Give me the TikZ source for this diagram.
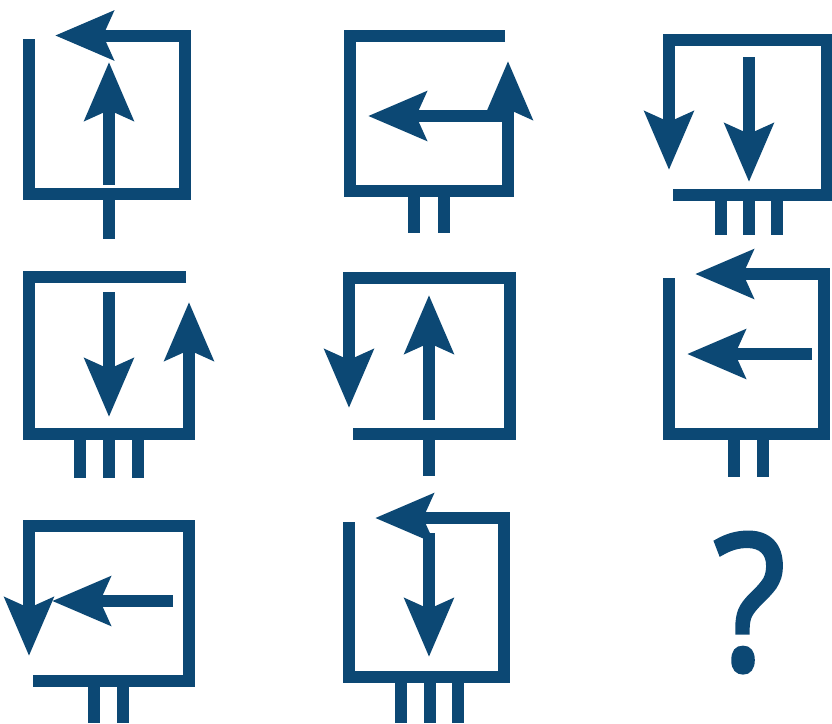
\documentclass[tikz,border=0pt]{standalone}
\usepackage{fontspec}
\newfontfamily\qfont{Open Sans}[FakeBold=2,FakeStretch=0.88]
\usetikzlibrary{arrows.meta}
\definecolor{pzblue}{HTML}{0C4874}

\begin{document}
\begin{tikzpicture}[>={Stealth[length=58pt,width=48pt,inset=10pt]},
    x=1pt,y=-1pt,line width=12pt]

  \useasboundingbox (0,0) rectangle (832,723);

  % --- row 1, cell 1 ---
  \draw[pzblue,->] (29,39) -- (29,194) -- (185,194) -- (185,35.5) -- (55,35.5);
  \draw[pzblue,->] (109,185) -- (109,62);
  \draw[pzblue] (109,194) -- (109,239);

  % --- row 1, cell 2 ---
  \draw[pzblue,->] (505,36) -- (349.5,36) -- (349.5,191) -- (508,191) -- (508,61);
  \draw[pzblue,->] (505,116) -- (368,116);
  \draw[pzblue] (414,191) -- (414,233);
  \draw[pzblue] (444,191) -- (444,233);

  % --- row 1, cell 3 ---
  \draw[pzblue,->] (673,195) -- (827,195) -- (827,39.5) -- (669,39.5) -- (669,170);
  \draw[pzblue,->] (749,57) -- (749,182);
  \draw[pzblue] (721,195) -- (721,235);
  \draw[pzblue] (749,195) -- (749,235);
  \draw[pzblue] (776.5,195) -- (776.5,235);

  % --- row 2, cell 1 ---
  \draw[pzblue,->] (186,276.5) -- (29,276.5) -- (29,433.5) -- (189,433.5) -- (189,302);
  \draw[pzblue,->] (109,292) -- (109,417);
  \draw[pzblue] (80,433.5) -- (80,478);
  \draw[pzblue] (109,433.5) -- (109,478);
  \draw[pzblue] (138,433.5) -- (138,478);

  % --- row 2, cell 2 ---
  \draw[pzblue,->] (353,434) -- (510,434) -- (510,277.5) -- (349,277.5) -- (349,408);
  \draw[pzblue,->] (429,420) -- (429,295);
  \draw[pzblue] (429,434) -- (429,476);

  % --- row 2, cell 3 ---
  \draw[pzblue,->] (669,278) -- (669,434) -- (824,434) -- (824,274) -- (695,274);
  \draw[pzblue,->] (812,354) -- (687,354);
  \draw[pzblue] (734,434) -- (734,477);
  \draw[pzblue] (763,434) -- (763,477);

  % --- row 3, cell 1 ---
  \draw[pzblue,->] (33,681) -- (188.5,681) -- (188.5,526) -- (29,526) -- (29,656);
  \draw[pzblue,->] (173,601) -- (52,601);
  \draw[pzblue] (94,681) -- (94,723);
  \draw[pzblue] (123,681) -- (123,723);

  % --- row 3, cell 2 ---
  \draw[pzblue,->] (349,522) -- (349,677) -- (504,677) -- (504,518) -- (375,518);
  \draw[pzblue,->] (429,533) -- (429,657);
  \draw[pzblue] (401,677) -- (401,723);
  \draw[pzblue] (430,677) -- (430,723);
  \draw[pzblue] (458,677) -- (458,723);

  % --- row 3, cell 3: the unknown ---
  \node[pzblue,anchor=base,inner sep=0pt,
        font=\qfont\fontsize{190}{190}\selectfont]
    (unknown) at (749.5,670) {?};

\end{tikzpicture}
\end{document}
